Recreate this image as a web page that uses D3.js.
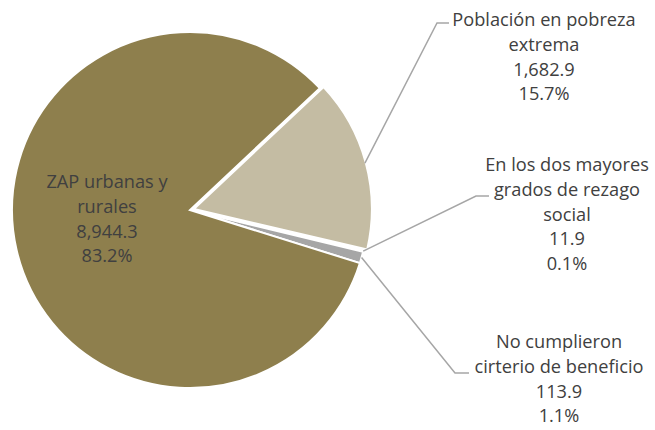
<!DOCTYPE html>
<html lang="es">
<head>
<meta charset="utf-8">
<title>Pie</title>
<script src="https://d3js.org/d3.v7.min.js"></script>
<style>
  body { margin: 0; background: #fff; }
  text { font-family: "Open Sans", sans-serif; fill: #404040; }
</style>
</head>
<body>
<script>
// datos
var categorias = ["Población en pobreza extrema", "En los dos mayores grados de rezago social", "No cumplieron cirterio de beneficio", "ZAP urbanas y rurales"];
var valores = [1682.9, 11.9, 113.9, 8944.3];
var porcentajes = ["15.7%", "0.1%", "1.1%", "83.2%"];
var valoresTxt = ["1,682.9", "11.9", "113.9", "8,944.3"];
var lineasEtiqueta = [
  ["Población en pobreza", "extrema"],
  ["En los dos mayores", "grados de rezago", "social"],
  ["No cumplieron", "cirterio de beneficio"],
  ["ZAP urbanas y", "rurales"]
];
var colores = ["#C4BCA3", "#D9D9D9", "#A6A6A6", "#8E7F4D"];

var W = 655, H = 430;
var cx = 190, cy = 210, r = 178;

var svg = d3.select("body").append("svg")
  .attr("width", W)
  .attr("height", H);

var g = svg.append("g").attr("transform", "translate(" + cx + "," + cy + ")");

var inicio = 46.8 * Math.PI / 180;
var pie = d3.pie().sort(null).value(function(d){ return d; })
  .startAngle(inicio).endAngle(inicio + 2 * Math.PI);
var arcos = pie(valores);
var arc = d3.arc().innerRadius(0).outerRadius(r);

// desplazamiento del sector claro
var explota = [4, 0, 0, 0];

function offset(d, i) {
  var a = (d.startAngle + d.endAngle) / 2;
  return [Math.sin(a) * explota[i], -Math.cos(a) * explota[i]];
}

g.selectAll("path.sector")
  .data(arcos)
  .enter()
  .append("path")
  .attr("class", "sector")
  .attr("d", arc)
  .attr("transform", function(d, i){ var o = offset(d, i); return "translate(" + o[0] + "," + o[1] + ")"; })
  .attr("fill", function(d, i){ return colores[i]; })
  .attr("stroke", "#fff")
  .attr("stroke-width", 2)
  .attr("stroke-linejoin", "miter");

// posiciones de etiquetas (centro x, y de la primera linea)
var posEtiqueta = [[544, 20], [567, 165], [559, 342], [107, 182]];
// codos de lineas guia
var codos = [[437, 23, 449], [476, 196, 489], [455, 373, 469]];
var radioGuia = [0.995, 1.0, 1.0];
var dh = 24.7;

for (var i = 0; i < 3; i++) {
  var d = arcos[i];
  var a = (d.startAngle + d.endAngle) / 2;
  var o = offset(d, i);
  var x0 = cx + o[0] + Math.sin(a) * r * radioGuia[i];
  var y0 = cy + o[1] - Math.cos(a) * r * radioGuia[i];
  svg.append("polyline")
    .attr("points", [[x0, y0], [codos[i][0], codos[i][1]], [codos[i][2], codos[i][1]]].map(function(p){ return p.join(","); }).join(" "))
    .attr("fill", "none")
    .attr("stroke", "#A6A6A6")
    .attr("stroke-width", 1.5);
}

categorias.forEach(function(c, i) {
  var lineas = lineasEtiqueta[i].concat([valoresTxt[i], porcentajes[i]]);
  var t = svg.append("text")
    .attr("text-anchor", "middle")
    .attr("font-size", "18.2px");
  lineas.forEach(function(l, k) {
    t.append("tspan")
      .attr("x", posEtiqueta[i][0])
      .attr("y", posEtiqueta[i][1] + k * dh)
      .attr("dy", "0.35em")
      .text(l);
  });
});
</script>
</body>
</html>
